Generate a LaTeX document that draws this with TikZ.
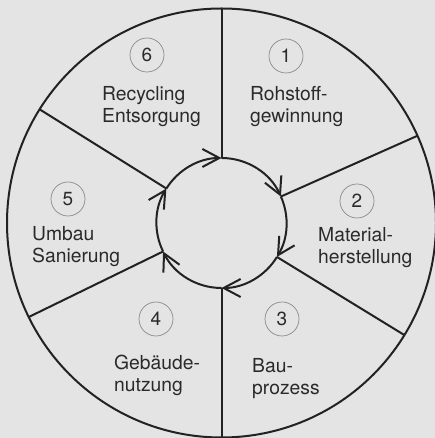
\documentclass[tikz,border=0pt]{standalone}
\usepackage{fontspec}
\setmainfont{TeX Gyre Heros}
\usetikzlibrary{arrows.meta,calc}
\definecolor{bgc}{HTML}{E4E4E4}
\definecolor{ink}{HTML}{222222}
\definecolor{txt}{HTML}{2A2A2A}
\definecolor{ring}{HTML}{8A8A8A}
\tikzset{
  lw/.style={line width=2pt, draw=ink},
  lbl/.style={anchor=base west, align=left, inner sep=0pt, text=txt,
    font=\fontsize{19.3pt}{22pt}\selectfont},
  num/.style={circle, draw=ring, line width=0.7pt, minimum size=34pt, inner sep=0pt,
    text=txt, font=\fontsize{19pt}{22pt}\selectfont},
  cyc/.style={lw, -{Straight Barb[length=17pt,width=18pt,line width=2pt]}}
}
\begin{document}
\begin{tikzpicture}[x=1pt,y=1pt]
\fill[bgc] (0,0) rectangle (435,438);
\useasboundingbox (0,0) rectangle (435,438);
\coordinate (c) at (221.5,215);
\def\Ro{214.5}
\def\Ri{65}
% outer circle
\draw[lw] (c) circle[radius=\Ro];
% spokes
\foreach \a/\n in {90/a,24/b,-31.5/c,-90/d,206/e,148/f}{
  \coordinate (i\n) at ($(c)+(\a:\Ri)$);
  \coordinate (o\n) at ($(c)+(\a:\Ro)$);
}
\foreach \n in {a,b,c,d,e,f}{ \draw[lw] (i\n) -- (o\n); }
% inner cycle arcs with arrows (clockwise)
\draw[cyc] (ia) arc[start angle=90, end angle=24, radius=\Ri];
\draw[cyc] (ib) arc[start angle=24, end angle=-31.5, radius=\Ri];
\draw[cyc] (ic) arc[start angle=-31.5, end angle=-90, radius=\Ri];
\draw[cyc] (id) arc[start angle=-90, end angle=-154, radius=\Ri];
\draw[cyc] (ie) arc[start angle=206, end angle=148, radius=\Ri];
\draw[cyc] (if) arc[start angle=148, end angle=90, radius=\Ri];
% numbers
\node[num] (n1) at (286,382) {1};
\node[num] (n2) at (357,237) {2};
\node[num] (n3) at (282,119) {3};
\node[num] (n4) at (156,119) {4};
\node[num] (n5) at (68,239) {5};
\node[num] (n6) at (147,383) {6};
% labels (anchor = baseline of last line)
\node[lbl] (t1) at (250,315) {Rohstoff-\\gewinnung};
\node[lbl] (t2) at (318,174) {Material-\\herstellung};
\node[lbl] (t3) at (252,43) {Bau-\\prozess};
\node[lbl] (t4) at (114,46) {Gebäude-\\nutzung};
\node[lbl] (t5) at (32,175) {Umbau\\Sanierung};
\node[lbl] (t6) at (102,315) {Recycling\\Entsorgung};
\end{tikzpicture}
\end{document}
